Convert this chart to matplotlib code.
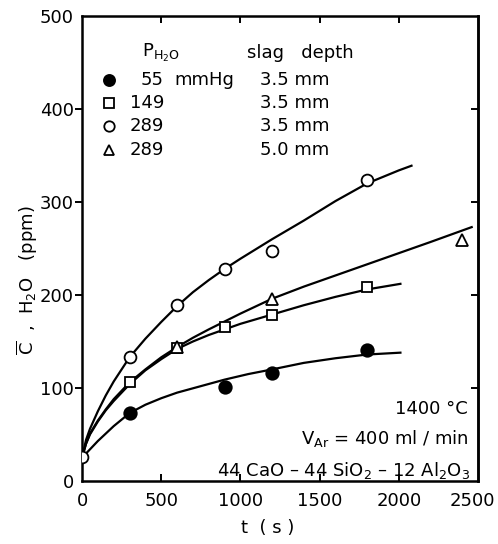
import matplotlib
matplotlib.use('Agg')
from matplotlib import pyplot as plt
from matplotlib import transforms

# measured points (t in s, concentration in ppm)
t_55 = [300, 900, 1200, 1800]
c_55 = [73, 101, 116, 141]
t_149 = [300, 600, 900, 1200, 1800]
c_149 = [106, 143, 166, 178, 209]
t_289 = [0, 300, 600, 900, 1200, 1800]
c_289 = [26, 133, 189, 228, 247, 324]
t_289d = [600, 1200, 2400]
c_289d = [144, 196, 259]

# drawn curves
ct_55 = [0, 50, 100, 200, 300, 400, 500, 600, 750, 900, 1050, 1200, 1400, 1600, 1800, 2010]
cc_55 = [25, 34, 43, 59, 73, 82, 89, 95, 102, 109, 115, 120, 127, 132, 136, 138]
ct_149 = [0, 25, 50, 100, 150, 200, 300, 400, 500, 600, 700, 800, 1000, 1200, 1400, 1600, 1800, 2010]
cc_149 = [25, 40, 50, 64, 76, 86, 104, 119, 131, 142, 150, 157, 169, 179, 189, 198, 206, 212]
ct_289 = [0, 25, 50, 100, 150, 200, 300, 400, 500, 600, 700, 800, 900, 1000, 1200, 1400, 1600, 1800, 2000, 2080]
cc_289 = [25, 44, 56, 75, 92, 107, 133, 153, 171, 188, 203, 216, 228, 239, 260, 280, 301, 320, 334, 339]
ct_289d = [0, 25, 50, 100, 150, 200, 300, 400, 500, 600, 700, 800, 1000, 1200, 1400, 1600, 1800, 2000, 2200, 2460]
cc_289d = [25, 40, 51, 65, 77, 88, 106, 120, 133, 144, 154, 163, 180, 196, 209, 221, 233, 245, 257, 273]

leg_p = ['55', '149', '289', '289']
leg_depth = ['3.5 mm', '3.5 mm', '3.5 mm', '5.0 mm']

plt.rcParams['font.family'] = 'DejaVu Sans'
plt.rcParams['mathtext.fontset'] = 'dejavusans'

fig = plt.figure(figsize=(4.98, 5.44), dpi=100)
ax = fig.add_axes([0.1647, 0.1158, 0.7952, 0.8548])

lw = 1.6
for ct, cc in [(ct_55, cc_55), (ct_149, cc_149), (ct_289, cc_289), (ct_289d, cc_289d)]:
    ax.plot(ct, cc, color='black', linewidth=lw, solid_joinstyle='round')

mk = dict(linestyle='none', markeredgecolor='black', markeredgewidth=1.3, zorder=5)
styles = [
    (t_55, c_55, 'o', 'black', 9),
    (t_149, c_149, 's', 'white', 7.5),
    (t_289, c_289, 'o', 'white', 8.5),
    (t_289d, c_289d, '^', 'white', 8),
]
for t, c, m, fc, ms in styles:
    ax.plot(t, c, marker=m, markerfacecolor=fc, markersize=ms, **mk)

ax.set_xlim(0, 2500)
ax.set_ylim(0, 500)
ax.set_xticks([0, 500, 1000, 1500, 2000, 2500])
ax.set_yticks([0, 100, 200, 300, 400, 500])
for s in ax.spines.values():
    s.set_linewidth(1.8)
ax.tick_params(axis='x', direction='in', top=True, length=5, width=1.4, labelsize=13, pad=8)
ax.tick_params(axis='y', left=True, right=False, direction='out', length=5, width=1.4, labelsize=13, pad=1)
ax2 = ax.secondary_yaxis('right')
ax2.set_yticks([100, 200, 300, 400])
ax2.tick_params(direction='in', length=5, width=1.4, labelright=False)
ax2.spines['right'].set_linewidth(1.8)
yt = ax.yaxis.get_major_ticks()
yt[0].tick1line.set_visible(False)
yt[-1].tick1line.set_visible(False)
xt = ax.xaxis.get_major_ticks()
for tk in (xt[0], xt[-1]):
    tk.tick1line.set_visible(False)
    tk.tick2line.set_visible(False)
last = ax.get_xticklabels()[-1]
last.set_transform(last.get_transform() + transforms.ScaledTranslation(-4 / 72, 0, fig.dpi_scale_trans))

fig.text(268 / 498, 1 - 528 / 544, 't  ( s )', ha='center', va='center', fontsize=13)
fig.text(27 / 498, 1 - 280 / 544, r'$\overline{\mathrm{C}}$  ,  H$_2$O   (ppm)',
         rotation=90, ha='center', va='center', fontsize=13)

# legend block
fs = 13
ax.text(0.152, 0.920, r'P$_{\mathrm{H_2O}}$', transform=ax.transAxes, fontsize=fs, va='center')
ax.text(0.417, 0.920, 'slag   depth', transform=ax.transAxes, fontsize=fs, va='center')
rows = [0.862, 0.813, 0.763, 0.712]
for i, (y, p, d) in enumerate(zip(rows, leg_p, leg_depth)):
    m, fc, ms = styles[i][2], styles[i][3], styles[i][4] - 1
    ax.plot([0.068], [y], transform=ax.transAxes, marker=m, markerfacecolor=fc,
            markersize=ms, clip_on=False, **mk)
    ax.text(0.207, y, p, transform=ax.transAxes, fontsize=fs, va='center', ha='right')
    ax.text(0.449, y, d, transform=ax.transAxes, fontsize=fs, va='center')
ax.text(0.232, rows[0], 'mmHg', transform=ax.transAxes, fontsize=fs, va='center')

ax.text(0.975, 0.155, '1400 °C', transform=ax.transAxes, fontsize=fs, va='center', ha='right')
ax.text(0.978, 0.092, r'V$_{\mathrm{Ar}}$ = 400 ml / min', transform=ax.transAxes, fontsize=fs,
        va='center', ha='right')
ax.text(0.98, 0.022, r'44 CaO – 44 SiO$_2$ – 12 Al$_2$O$_3$', transform=ax.transAxes,
        fontsize=fs, va='center', ha='right')

fig.savefig('out.png', dpi=100)
